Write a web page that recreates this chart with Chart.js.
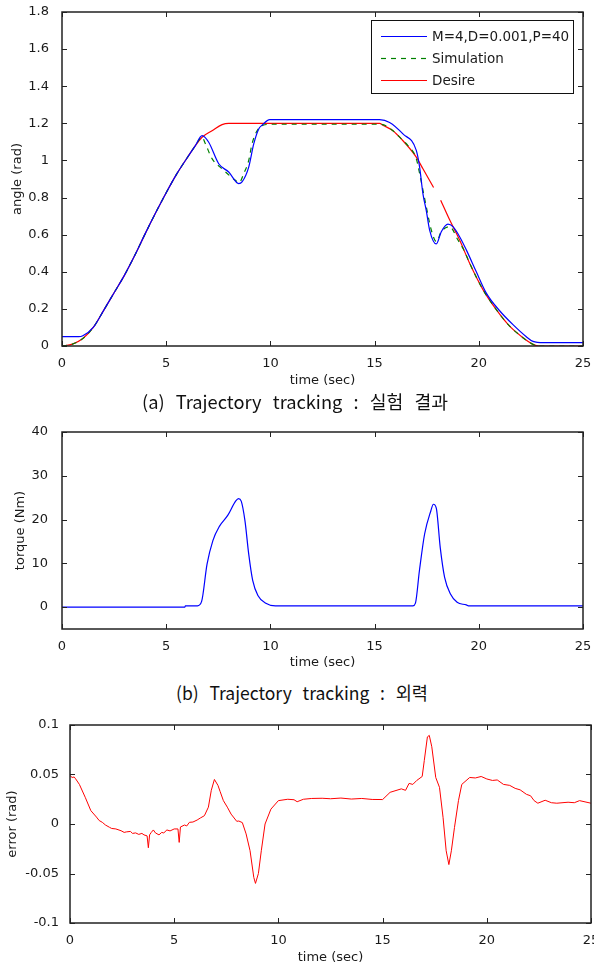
<!DOCTYPE html>
<html>
<head>
<meta charset="utf-8">
<script src="https://cdn.jsdelivr.net/npm/chart.js@4.4.1/dist/chart.umd.min.js"></script>
<style>
html, body { margin: 0; padding: 0; background: #fff; }
body { width: 594px; height: 969px; position: relative; overflow: hidden; }
canvas { position: absolute; left: 0; }
.cap { position: absolute; white-space: nowrap; font-family: "Noto Sans CJK KR"; font-size: 18px; word-spacing: 7px; line-height: 20px; color: #111; transform-origin: 0 50%; }
</style>
</head>
<body>
<canvas id="c1" width="594" height="392" style="top:0"></canvas>
<canvas id="c2" width="594" height="265" style="top:410px"></canvas>
<canvas id="c3" width="594" height="264" style="top:705px"></canvas>
<div class="cap" data-w="306" style="left:142px;top:391px">(a) Trajectory tracking : 실험 결과</div>
<div class="cap" data-w="252" style="left:176px;top:682px">(b) Trajectory tracking : 외력</div>
<script>
// tick values
var timeTicks = [0, 5, 10, 15, 20, 25];
var angleTicks = [0, 0.2, 0.4, 0.6, 0.8, 1, 1.2, 1.4, 1.6, 1.8];
var torqueTicks = [0, 10, 20, 30, 40];
var errorTicks = [-0.1, -0.05, 0, 0.05, 0.1];

// (a) angle [time, rad]
var measured = [[0,0.05],[0.8,0.05],[1.0,0.055],[1.5,0.1],[2,0.192],[2.5,0.287],[3,0.382],[3.5,0.49],[4,0.607],[4.5,0.719],[5,0.826],[5.5,0.926],[6,1.013],[6.4,1.08],[6.72,1.134],[7.04,1.098],[7.52,0.982],[8.0,0.9375],[8.48,0.875],[8.64,0.884],[8.96,0.964],[9.2,1.089],[9.44,1.17],[9.6,1.19],[9.97,1.22],[15.24,1.22],[15.72,1.205],[16.36,1.143],[17.0,1.054],[17.16,0.964],[17.32,0.82],[17.48,0.73],[17.64,0.625],[17.96,0.55],[18.2,0.616],[18.52,0.657],[18.76,0.643],[19.08,0.589],[19.4,0.518],[19.88,0.4],[20.36,0.285],[21.0,0.19],[21.64,0.115],[22.28,0.05],[22.6,0.025],[23.1,0.018],[25,0.018]];
var simulation = [[0,0],[0.5,0.01],[1,0.04],[1.5,0.1],[2,0.192],[2.5,0.287],[3,0.382],[3.5,0.49],[4,0.607],[4.5,0.719],[5,0.826],[5.5,0.926],[6,1.013],[6.4,1.08],[6.72,1.125],[6.88,1.09],[7.2,1.01],[7.68,0.955],[8.32,0.893],[8.5,0.88],[8.72,0.929],[8.96,1.0],[9.12,1.09],[9.36,1.16],[9.65,1.19],[10.1,1.195],[15.3,1.195],[15.88,1.16],[16.28,1.116],[16.6,1.08],[17.0,1.01],[17.16,0.93],[17.32,0.84],[17.48,0.75],[17.72,0.625],[17.96,0.563],[18.2,0.616],[18.6,0.643],[19.0,0.571],[19.32,0.509],[19.56,0.446],[20.2,0.304],[20.84,0.196],[21.48,0.107],[22.12,0.045],[22.6,0.009],[22.92,0],[25,0]];
var desire = [[0,0],[0.5,0.01],[1,0.04],[1.5,0.1],[2,0.192],[2.5,0.287],[3,0.382],[3.5,0.49],[4,0.607],[4.5,0.719],[5,0.826],[5.5,0.926],[6,1.013],[6.4,1.08],[6.72,1.125],[7.2,1.16],[7.68,1.193],[8,1.2],[15.24,1.2],[15.4,1.19],[15.88,1.16],[16.28,1.116],[17.0,1.018],[17.32,0.955],[17.83,0.854],[18,null],[18.17,0.786],[18.6,0.68],[19.08,0.571],[19.56,0.446],[20.2,0.304],[20.84,0.196],[21.48,0.107],[22.12,0.045],[22.6,0.009],[22.92,0],[25,0]];

// (b) torque [time, Nm]
var torque = [[0,0],[5.9,0],[5.92,0.3],[6.5,0.3],[6.7,1.3],[6.96,9.8],[7.24,15.2],[7.56,18.5],[7.96,21],[8.33,24.2],[8.47,24.8],[8.6,24.2],[8.78,19.7],[8.96,12.1],[9.15,6.1],[9.4,2.65],[9.78,0.9],[10.24,0.3],[16.84,0.3],[16.96,0.9],[17.15,8.3],[17.4,16.7],[17.7,22],[17.82,23.5],[17.96,22.6],[18.15,13.6],[18.36,6.8],[18.64,3.0],[18.96,1.1],[19.4,0.5],[19.5,0.3],[25,0.3]];

// (c) error [time, rad]
var error = [[0,0.049],[0.1,0.047],[0.2,0.0475],[0.27,0.0456],[0.45,0.04],[0.73,0.027],[1.0,0.0135],[1.27,0.007],[1.4,0.0035],[1.55,0.0017],[1.7,-0.001],[1.9,-0.0034],[2.0,-0.0045],[2.2,-0.005],[2.45,-0.0068],[2.6,-0.0085],[2.7,-0.008],[2.9,-0.0075],[3.0,-0.0095],[3.15,-0.009],[3.3,-0.0105],[3.45,-0.0095],[3.55,-0.011],[3.7,-0.012],[3.76,-0.024],[3.82,-0.011],[3.9,-0.0085],[4.0,-0.006],[4.1,-0.009],[4.27,-0.011],[4.4,-0.0085],[4.5,-0.009],[4.65,-0.006],[4.8,-0.007],[5.0,-0.005],[5.18,-0.005],[5.24,-0.0186],[5.3,-0.003],[5.5,-0.001],[5.6,-0.002],[5.73,0.0017],[5.9,0.002],[6.1,0.004],[6.25,0.006],[6.45,0.0084],[6.64,0.017],[6.78,0.034],[6.93,0.045],[7.1,0.039],[7.2,0.033],[7.36,0.0236],[7.55,0.017],[7.73,0.01],[8.0,0.0027],[8.1,0.003],[8.27,0.0014],[8.45,-0.01],[8.64,-0.027],[8.82,-0.054],[8.9,-0.06],[9.04,-0.05],[9.18,-0.027],[9.36,0],[9.64,0.015],[10.0,0.0236],[10.45,0.025],[10.75,0.0245],[10.9,0.0225],[11.2,0.025],[11.6,0.0258],[12.1,0.026],[12.5,0.0255],[13.0,0.0262],[13.5,0.0252],[14.0,0.0258],[14.5,0.0248],[15.0,0.0247],[15.36,0.032],[15.9,0.0355],[16.1,0.034],[16.27,0.041],[16.45,0.04],[16.64,0.044],[16.9,0.048],[17.0,0.064],[17.15,0.088],[17.24,0.0895],[17.36,0.078],[17.55,0.047],[17.73,0.037],[17.9,0.0068],[18.05,-0.027],[18.18,-0.041],[18.3,-0.027],[18.45,-0.0034],[18.64,0.0236],[18.8,0.04],[19.18,0.047],[19.45,0.0465],[19.73,0.048],[20.0,0.0455],[20.27,0.044],[20.5,0.0445],[20.8,0.04],[21.1,0.039],[21.36,0.036],[21.6,0.0345],[21.9,0.03],[22.1,0.0285],[22.27,0.0236],[22.45,0.021],[22.8,0.024],[23.1,0.0215],[23.36,0.021],[23.9,0.022],[24.2,0.0215],[24.45,0.0236],[25,0.021]];

var FONT = 'DejaVu Sans';
var INK = '#1a1a1a';

function pts(arr) {
    return arr.map(function(p){ return {x: p[0], y: p[1]}; });
}

// box round the plot with inward ticks on all sides
var framePlugin = {
    id: 'frame',
    afterDatasetsDraw: function(chart) {
        var ctx = chart.ctx, a = chart.chartArea, x = chart.scales.x, y = chart.scales.y;
        ctx.save();
        ctx.strokeStyle = '#222';
        ctx.lineWidth = 1;
        ctx.beginPath();
        x.ticks.forEach(function(t){
            var px = Math.round(x.getPixelForValue(t.value)) + 0.5;
            ctx.moveTo(px, a.bottom); ctx.lineTo(px, a.bottom - 5);
            ctx.moveTo(px, a.top); ctx.lineTo(px, a.top + 5);
        });
        y.ticks.forEach(function(t){
            var py = Math.round(y.getPixelForValue(t.value)) + 0.5;
            ctx.moveTo(a.left, py); ctx.lineTo(a.left + 5, py);
            ctx.moveTo(a.right, py); ctx.lineTo(a.right - 5, py);
        });
        ctx.stroke();
        ctx.lineWidth = 1.5;
        ctx.strokeRect(a.left, a.top, a.right - a.left, a.bottom - a.top);
        ctx.restore();
    }
};

var legendBox = {
    id: 'legendBox',
    afterDraw: function(chart) {
        var ctx = chart.ctx;
        ctx.save();
        ctx.fillStyle = '#fff';
        ctx.fillRect(371, 20, 202, 73);
        ctx.strokeStyle = '#111';
        ctx.lineWidth = 1;
        ctx.strokeRect(371.5, 20.5, 202, 73);
        ctx.font = '13.5px "' + FONT + '"';
        ctx.textBaseline = 'middle';
        chart.data.datasets.forEach(function(ds, i){
            var yy = Math.round(35.7 + i * 22.2) + 0.5;
            ctx.beginPath();
            ctx.setLineDash(ds.borderDash || []);
            ctx.strokeStyle = ds.borderColor;
            ctx.lineWidth = 1.2;
            ctx.moveTo(381, yy); ctx.lineTo(427, yy);
            ctx.stroke();
            ctx.setLineDash([]);
            ctx.fillStyle = INK;
            ctx.fillText(ds.label, 432, yy + 0.5);
        });
        ctx.restore();
    }
};

function makeScales(o) {
    return {
        x: {
            type: 'linear', min: 0, max: 25,
            afterBuildTicks: function(s){ s.ticks = timeTicks.map(function(v){ return {value: v}; }); },
            afterFit: function(s){ s.height = 46; s.paddingLeft = 0; s.paddingRight = 0; },
            grid: {display: false}, border: {display: false},
            ticks: {autoSkip: false, maxRotation: 0, padding: 2, color: INK, font: {family: FONT, size: 13},
                callback: function(v){ return String(v); }},
            title: {display: true, text: 'time (sec)', color: INK, font: {family: FONT, size: 13},
                padding: {top: 0, bottom: o.xTitlePad}}
        },
        y: {
            type: 'linear', min: o.min, max: o.max,
            afterBuildTicks: function(s){ s.ticks = o.ticks.map(function(v){ return {value: v}; }); },
            afterFit: function(s){ s.width = o.left; s.paddingTop = 0; s.paddingBottom = 0; },
            grid: {display: false}, border: {display: false},
            ticks: {autoSkip: false, padding: o.tickPad, color: INK, font: {family: FONT, size: 13},
                callback: function(v){ return String(v); }},
            title: {display: true, text: o.title, color: INK, font: {family: FONT, size: 13},
                padding: {top: o.yTitlePad, bottom: 0}}
        }
    };
}

var common = {
    responsive: false,
    animation: false,
    events: [],
    plugins: {legend: {display: false}, tooltip: {enabled: false}},
    elements: {point: {radius: 0}, line: {borderWidth: 1.2}}
};

new Chart(document.getElementById('c1'), {
    type: 'line',
    data: {
        datasets: [
            {label: 'M=4,D=0.001,P=40', data: pts(measured), borderColor: '#0000ff', cubicInterpolationMode: 'monotone'},
            {label: 'Simulation', data: pts(simulation), borderColor: '#008000', borderDash: [5, 5], cubicInterpolationMode: 'monotone'},
            {label: 'Desire', data: pts(desire), borderColor: '#ff0000', spanGaps: false, cubicInterpolationMode: 'monotone'}
        ]
    },
    options: Object.assign({}, common, {
        layout: {padding: {top: 12, right: 11, left: 0, bottom: 0}},
        scales: makeScales({min: 0, max: 1.8, ticks: angleTicks, left: 62, tickPad: 5, title: 'angle (rad)', yTitlePad: 10, xTitlePad: 4})
    }),
    plugins: [framePlugin, legendBox]
});

new Chart(document.getElementById('c2'), {
    type: 'line',
    data: {
        datasets: [
            {label: 'torque', data: pts(torque), borderColor: '#0000ff', cubicInterpolationMode: 'monotone'}
        ]
    },
    options: Object.assign({}, common, {
        layout: {padding: {top: 22, right: 11, left: 0, bottom: 0}},
        scales: makeScales({min: -5, max: 40, ticks: torqueTicks, left: 62, tickPad: 6, title: 'torque (Nm)', yTitlePad: 13, xTitlePad: 5})
    }),
    plugins: [framePlugin]
});

new Chart(document.getElementById('c3'), {
    type: 'line',
    data: {
        datasets: [
            {label: 'error', data: pts(error), borderColor: '#ff0000', borderWidth: 1}
        ]
    },
    options: Object.assign({}, common, {
        layout: {padding: {top: 20, right: 3, left: 0, bottom: 0}},
        scales: makeScales({min: -0.1, max: 0.1, ticks: errorTicks, left: 70, tickPad: 3, title: 'error (rad)', yTitlePad: 5, xTitlePad: 4})
    }),
    plugins: [framePlugin]
});

// fit the captions to their width in the picture
document.querySelectorAll('.cap').forEach(function(el){
    el.style.transform = 'scaleX(' + (el.dataset.w / el.offsetWidth) + ')';
});
</script>
</body>
</html>
